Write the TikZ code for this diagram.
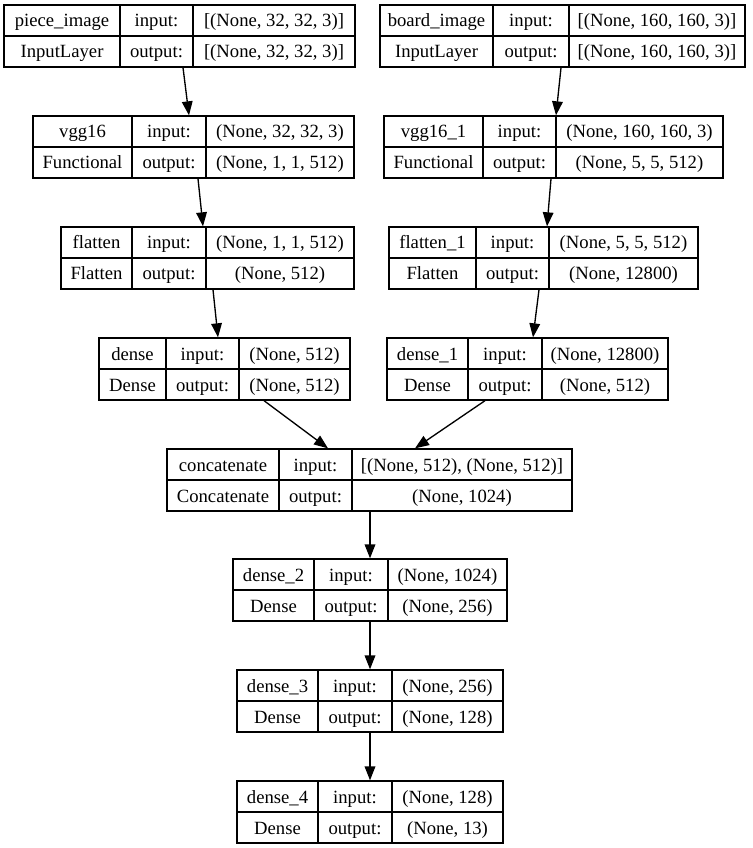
\documentclass[tikz,border=0pt]{standalone}
\usepackage{fontspec}
\setmainfont{Liberation Serif}
\usetikzlibrary{arrows.meta,fit}

\tikzset{
  layerframe/.style={draw=black, line width=1pt, inner sep=0pt, rectangle},
  cellline/.style={draw=black, line width=1pt},
  celltext/.style={anchor=base, inner sep=0pt, font=\fontsize{14pt}{16pt}\selectfont},
  flow/.style={draw=black, line width=1pt, -{Triangle[length=10.5pt,width=8pt]}},
}

% split the {input}{output} pair of a layer
\def\ioparts#1#2{\def\ioIn{#1}\def\ioOut{#2}}

% #1 node name, #2..#5 column edges, #6 top edge,
% #7 layer name, #8 layer class, #9 {input shape}{output shape}
\newcommand\layer[9]{%
  \ioparts#9%
  \node[layerframe, fit={(#2,#6) (#5,#6+62)}] (#1) {};
  \draw[cellline] (#3,#6) -- (#3,#6+62);
  \draw[cellline] (#4,#6) -- (#4,#6+62);
  \draw[cellline] (#2,#6+31) -- (#5,#6+31);
  \node[celltext] (#1-name)  at ({(#2+#3)/2},#6+22) {#7};
  \node[celltext] (#1-class) at ({(#2+#3)/2},#6+53) {#8};
  \node[celltext] (#1-inlab) at ({(#3+#4)/2},#6+22) {input:};
  \node[celltext] (#1-outlab) at ({(#3+#4)/2},#6+53) {output:};
  \node[celltext] (#1-in)  at ({(#4+#5)/2},#6+22) {\ioIn};
  \node[celltext] (#1-out) at ({(#4+#5)/2},#6+53) {\ioOut};
}

\begin{document}
\begin{tikzpicture}[x=0.75pt,y=-0.75pt]
  \fill[white] (0,0) rectangle (752,848);
  \useasboundingbox (0,0) rectangle (752,848);

  % two input branches
  \layer{piece}{4}{120}{193}{355}{5}{piece\_image}{InputLayer}{{[(None, 32, 32, 3)]}{[(None, 32, 32, 3)]}}
  \layer{board}{380}{493}{569}{745}{5}{board\_image}{InputLayer}{{[(None, 160, 160, 3)]}{[(None, 160, 160, 3)]}}

  \layer{vgg}{33}{132}{206}{354}{116}{vgg16}{Functional}{{(None, 32, 32, 3)}{(None, 1, 1, 512)}}
  \layer{vggb}{384}{483}{556}{723}{116}{vgg16\_1}{Functional}{{(None, 160, 160, 3)}{(None, 5, 5, 512)}}

  \layer{flat}{61}{132}{206}{354}{227}{flatten}{Flatten}{{(None, 1, 1, 512)}{(None, 512)}}
  \layer{flatb}{389}{476}{549}{698}{227}{flatten\_1}{Flatten}{{(None, 5, 5, 512)}{(None, 12800)}}

  \layer{dense}{99}{166}{239}{350}{338}{dense}{Dense}{{(None, 512)}{(None, 512)}}
  \layer{denseb}{387}{468}{542}{668}{338}{dense\_1}{Dense}{{(None, 12800)}{(None, 512)}}

  % merged trunk
  \layer{concat}{167}{279}{352}{572}{449}{concatenate}{Concatenate}{{[(None, 512), (None, 512)]}{(None, 1024)}}
  \layer{dtwo}{233}{314}{388}{507}{559}{dense\_2}{Dense}{{(None, 1024)}{(None, 256)}}
  \layer{dthree}{237}{318}{392}{503}{670}{dense\_3}{Dense}{{(None, 256)}{(None, 128)}}
  \layer{dfour}{237}{318}{392}{503}{781}{dense\_4}{Dense}{{(None, 128)}{(None, 13)}}

  % connections
  \draw[flow] (piece.south -| 183,0) -- (vgg.north -| 189,0);
  \draw[flow] (board.south -| 561,0) -- (vggb.north -| 556,0);
  \draw[flow] (vgg.south -| 198,0) -- (flat.north -| 203,0);
  \draw[flow] (vggb.south -| 551,0) -- (flatb.north -| 547,0);
  \draw[flow] (flat.south -| 213,0) -- (dense.north -| 218,0);
  \draw[flow] (flatb.south -| 539,0) -- (denseb.north -| 533,0);
  \draw[flow] (dense.south -| 264,0) -- (concat.north -| 328,0);
  \draw[flow] (denseb.south -| 485,0) -- (concat.north -| 415,0);
  \draw[flow] (concat.south -| 370,0) -- (dtwo.north -| 370,0);
  \draw[flow] (dtwo.south -| 370,0) -- (dthree.north -| 370,0);
  \draw[flow] (dthree.south -| 370,0) -- (dfour.north -| 370,0);
\end{tikzpicture}
\end{document}
